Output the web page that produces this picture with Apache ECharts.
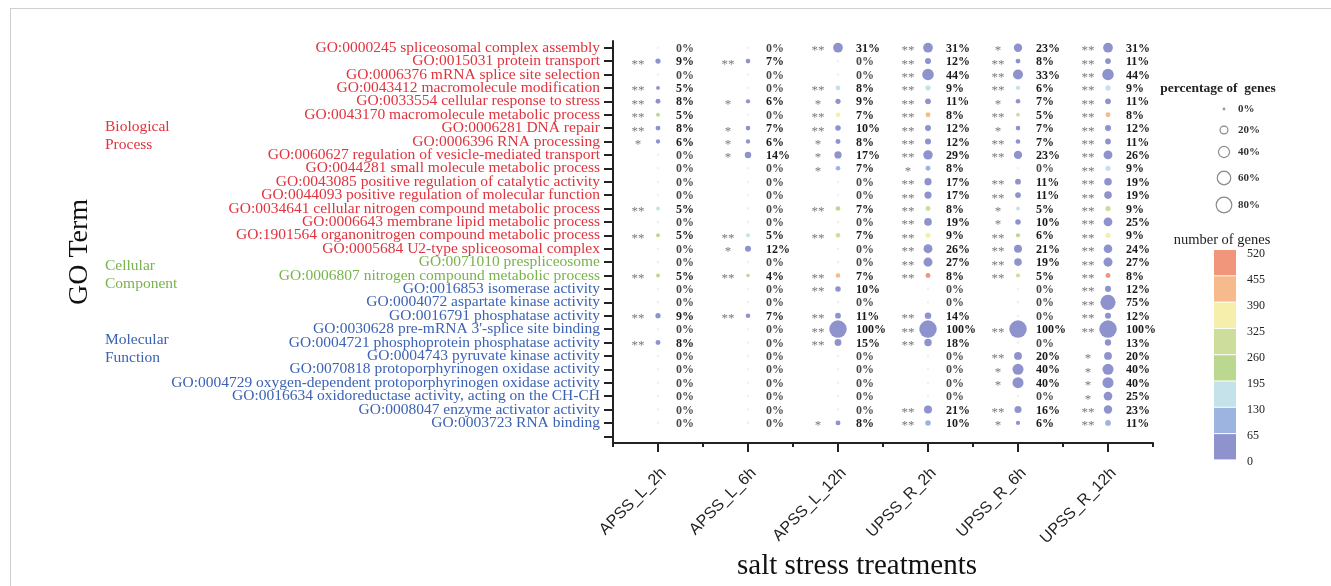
<!DOCTYPE html>
<html>
<head>
<meta charset="utf-8">
<script src="https://cdn.jsdelivr.net/npm/echarts@6/dist/echarts.min.js"></script>
<style>
  html, body { margin: 0; padding: 0; background: #ffffff; }
  #chart { width: 1331px; height: 586px; }
</style>
</head>
<body>
<div id="chart"></div>
<script>
// ---- data -----------------------------------------------------------------
const treatments = ['APSS_L_2h', 'APSS_L_6h', 'APSS_L_12h', 'UPSS_R_2h', 'UPSS_R_6h', 'UPSS_R_12h'];

const goTerms = [
  'GO:0000245 spliceosomal complex assembly',
  'GO:0015031 protein transport',
  'GO:0006376 mRNA splice site selection',
  'GO:0043412 macromolecule modification',
  'GO:0033554 cellular response to stress',
  'GO:0043170 macromolecule metabolic process',
  'GO:0006281 DNA repair',
  'GO:0006396 RNA processing',
  'GO:0060627 regulation of vesicle-mediated transport',
  'GO:0044281 small molecule metabolic process',
  'GO:0043085 positive regulation of catalytic activity',
  'GO:0044093 positive regulation of molecular function',
  'GO:0034641 cellular nitrogen compound metabolic process',
  'GO:0006643 membrane lipid metabolic process',
  'GO:1901564 organonitrogen compound metabolic process',
  'GO:0005684 U2-type spliceosomal complex',
  'GO:0071010 prespliceosome',
  'GO:0006807 nitrogen compound metabolic process',
  'GO:0016853 isomerase activity',
  'GO:0004072 aspartate kinase activity',
  'GO:0016791 phosphatase activity',
  "GO:0030628 pre-mRNA 3'-splice site binding",
  'GO:0004721 phosphoprotein phosphatase activity',
  'GO:0004743 pyruvate kinase activity',
  'GO:0070818 protoporphyrinogen oxidase activity',
  'GO:0004729 oxygen-dependent protoporphyrinogen oxidase activity',
  'GO:0016634 oxidoreductase activity, acting on the CH-CH',
  'GO:0008047 enzyme activator activity',
  'GO:0003723 RNA binding'
];

// label colour group of each term: BP / CC / MF
const termGroup = [
  'BP','BP','BP','BP','BP','BP','BP','BP','BP','BP','BP','BP','BP','BP','BP','BP',
  'CC','CC',
  'MF','MF','MF','MF','MF','MF','MF','MF','MF','MF','MF'
];

// percentage of genes (%), one array per treatment, in GO term order
const pctAPSS_L_2h  = [0, 9, 0, 5, 8, 5, 8, 6, 0, 0, 0, 0, 5, 0, 5, 0, 0, 5, 0, 0, 9, 0, 8, 0, 0, 0, 0, 0, 0];
const pctAPSS_L_6h  = [0, 7, 0, 0, 6, 0, 7, 6, 14, 0, 0, 0, 0, 0, 5, 12, 0, 4, 0, 0, 7, 0, 0, 0, 0, 0, 0, 0, 0];
const pctAPSS_L_12h = [31, 0, 0, 8, 9, 7, 10, 8, 17, 7, 0, 0, 7, 0, 7, 0, 0, 7, 10, 0, 11, 100, 15, 0, 0, 0, 0, 0, 8];
const pctUPSS_R_2h  = [31, 12, 44, 9, 11, 8, 12, 12, 29, 8, 17, 17, 8, 19, 9, 26, 27, 8, 0, 0, 14, 100, 18, 0, 0, 0, 0, 21, 10];
const pctUPSS_R_6h  = [23, 8, 33, 6, 7, 5, 7, 7, 23, 0, 11, 11, 5, 10, 6, 21, 19, 5, 0, 0, 0, 100, 0, 20, 40, 40, 0, 16, 6];
const pctUPSS_R_12h = [31, 11, 44, 9, 11, 8, 12, 11, 26, 9, 19, 19, 9, 25, 9, 24, 27, 8, 12, 75, 12, 100, 13, 20, 40, 40, 25, 23, 11];

// number of genes, one array per treatment, in GO term order
const genesAPSS_L_2h  = [0, 20, 0, 45, 40, 250, 15, 25, 0, 0, 0, 0, 170, 0, 230, 0, 0, 240, 0, 0, 12, 0, 8, 0, 0, 0, 0, 0, 0];
const genesAPSS_L_6h  = [0, 15, 0, 0, 30, 0, 12, 25, 6, 0, 0, 0, 0, 0, 150, 10, 0, 210, 0, 0, 9, 0, 0, 0, 0, 0, 0, 0, 0];
const genesAPSS_L_12h = [12, 0, 0, 170, 45, 350, 20, 35, 7, 80, 0, 0, 230, 0, 280, 0, 0, 420, 5, 0, 14, 3, 8, 0, 0, 0, 0, 0, 60];
const genesUPSS_R_2h  = [12, 25, 14, 185, 50, 430, 25, 50, 12, 90, 30, 30, 280, 20, 360, 20, 18, 480, 0, 0, 18, 3, 10, 0, 0, 0, 0, 25, 100];
const genesUPSS_R_6h  = [9, 17, 11, 140, 35, 300, 15, 30, 9, 0, 20, 20, 170, 10, 240, 16, 13, 300, 0, 0, 0, 3, 0, 2, 2, 2, 0, 19, 55];
const genesUPSS_R_12h = [12, 23, 14, 190, 50, 430, 25, 45, 10, 140, 33, 33, 300, 25, 360, 18, 18, 480, 15, 3, 16, 3, 7, 2, 2, 2, 1, 27, 100];

// significance marks, one array per treatment, in GO term order
const sigAPSS_L_2h  = ['', '**', '', '**', '**', '**', '**', '*', '', '', '', '', '**', '', '**', '', '', '**', '', '', '**', '', '**', '', '', '', '', '', ''];
const sigAPSS_L_6h  = ['', '**', '', '', '*', '', '*', '*', '*', '', '', '', '', '', '**', '*', '', '**', '', '', '**', '', '', '', '', '', '', '', ''];
const sigAPSS_L_12h = ['**', '', '', '**', '*', '**', '**', '*', '*', '*', '', '', '**', '', '**', '', '', '**', '**', '', '**', '**', '**', '', '', '', '', '', '*'];
const sigUPSS_R_2h  = ['**', '**', '**', '**', '**', '**', '**', '**', '**', '*', '**', '**', '**', '**', '**', '**', '**', '**', '', '', '**', '**', '**', '', '', '', '', '**', '**'];
const sigUPSS_R_6h  = ['*', '**', '**', '**', '*', '**', '*', '**', '**', '', '**', '**', '*', '*', '**', '**', '**', '**', '', '', '', '**', '', '**', '*', '*', '', '**', '*'];
const sigUPSS_R_12h = ['**', '**', '**', '**', '**', '**', '**', '**', '**', '**', '**', '**', '**', '**', '**', '**', '**', '**', '**', '**', '**', '**', '', '*', '*', '*', '*', '**', '**'];

// legend scales
const sizeLegendPct = [0, 20, 40, 60, 80];
const geneBreaks = [0, 65, 130, 195, 260, 325, 390, 455, 520];
const genePalette = ['#8f93cd', '#9db3e0', '#c5e2ea', '#bbd890', '#cddd9c', '#f6eeab', '#f6ba8c', '#f1967b'];

// ---- styling helpers ------------------------------------------------------
const groupColor = { BP: '#e0333d', CC: '#78b34b', MF: '#3b62b4' };
const groupName = { BP: 'Biological\nProcess', CC: 'Cellular\nComponent', MF: 'Molecular\nFunction' };
const SERIF = '"Liberation Serif", "Times New Roman", serif';
const SANS = '"Liberation Sans", Arial, sans-serif';

// bubble diameter grows with the square root of the percentage (area ~ value)
const bubbleSize = p => Math.max(2.6, 1.75 * Math.sqrt(p));

// ---- assemble series data -------------------------------------------------
const pctByT = [pctAPSS_L_2h, pctAPSS_L_6h, pctAPSS_L_12h, pctUPSS_R_2h, pctUPSS_R_6h, pctUPSS_R_12h];
const genesByT = [genesAPSS_L_2h, genesAPSS_L_6h, genesAPSS_L_12h, genesUPSS_R_2h, genesUPSS_R_6h, genesUPSS_R_12h];
const sigByT = [sigAPSS_L_2h, sigAPSS_L_6h, sigAPSS_L_12h, sigUPSS_R_2h, sigUPSS_R_6h, sigUPSS_R_12h];

const bubbles = [], zeros = [], marks = [];
treatments.forEach((t, c) => {
  goTerms.forEach((term, r) => {
    const p = pctByT[c][r], g = genesByT[c][r], s = sigByT[c][r];
    (p > 0 ? bubbles : zeros).push([c, r, p, g]);
    if (s) marks.push([c, r, s]);
  });
});

const termColor = {};
goTerms.forEach((t, i) => { termColor[t] = groupColor[termGroup[i]]; });
const yCategories = goTerms.concat(['']);

// ---- layout ---------------------------------------------------------------
const GRID = { left: 613, top: 41, right: 178, bottom: 143 };

const pctLabel = {
  show: true,
  position: 'inside',
  align: 'left',
  verticalAlign: 'middle',
  offset: [18, 1],
  formatter: p => p.value[2] + '%',
  color: '#1a1a1a',
  fontFamily: SERIF,
  fontWeight: 'bold',
  fontSize: 12
};

// ---- legend graphics ------------------------------------------------------
const graphics = [];
// outer frame lines
graphics.push({ type: 'line', shape: { x1: 10, y1: 8.5, x2: 1331, y2: 8.5 }, style: { stroke: '#cfcfcf', lineWidth: 1 } });
graphics.push({ type: 'line', shape: { x1: 10.5, y1: 8, x2: 10.5, y2: 586 }, style: { stroke: '#cfcfcf', lineWidth: 1 } });

// axis titles
graphics.push({
  type: 'text', x: 80, y: 252, rotation: Math.PI / 2,
  style: { text: 'GO Term', font: '28px ' + SERIF, fill: '#111', textAlign: 'center', textVerticalAlign: 'middle', align: 'center', verticalAlign: 'middle' }
});
graphics.push({
  type: 'text', x: 857, y: 566,
  style: { text: 'salt stress treatments', font: '29px ' + SERIF, fill: '#111', textAlign: 'center', textVerticalAlign: 'middle', align: 'center', verticalAlign: 'middle' }
});

// ontology group captions
[['BP', 118], ['CC', 257], ['MF', 331]].forEach(([g, y]) => {
  graphics.push({
    type: 'text', x: 105, y: y,
    style: { text: groupName[g], font: '15.5px ' + SERIF, fill: groupColor[g], lineHeight: 18, textAlign: 'left', align: 'left' }
  });
});

// size legend
graphics.push({
  type: 'text', x: 1218, y: 89,
  style: { text: 'percentage of  genes', font: 'bold 13.5px ' + SERIF, fill: '#222', textAlign: 'center', textVerticalAlign: 'middle', align: 'center', verticalAlign: 'middle' }
});
const sizeLegendY = [109, 130, 152, 178, 205];
sizeLegendPct.forEach((p, i) => {
  const r = bubbleSize(p) / 2;
  graphics.push({
    type: 'circle', shape: { cx: 1224, cy: sizeLegendY[i], r: p === 0 ? 1.4 : r },
    style: p === 0 ? { fill: '#9a9a9a' } : { fill: '#ffffff', stroke: '#8a8a8a', lineWidth: 1.2 }
  });
  graphics.push({
    type: 'text', x: 1238, y: sizeLegendY[i],
    style: { text: p + '%', font: 'bold 11px ' + SERIF, fill: '#333', textVerticalAlign: 'middle', verticalAlign: 'middle' }
  });
});

// colour legend
graphics.push({
  type: 'text', x: 1222, y: 240,
  style: { text: 'number of genes', font: '14.5px ' + SERIF, fill: '#222', textAlign: 'center', textVerticalAlign: 'middle', align: 'center', verticalAlign: 'middle' }
});
const barTop = 250, binH = 26.3, nBins = genePalette.length;
genePalette.forEach((col, i) => {
  graphics.push({
    type: 'rect',
    shape: { x: 1214, y: barTop + (nBins - 1 - i) * binH, width: 22, height: binH - 1 },
    style: { fill: col }
  });
});
geneBreaks.forEach((b, i) => {
  graphics.push({
    type: 'text', x: 1247, y: 254 + (nBins - i) * 26,
    style: { text: String(b), font: '12px ' + SERIF, fill: '#222', textVerticalAlign: 'middle', verticalAlign: 'middle' }
  });
});

// ---- chart ----------------------------------------------------------------
const chart = echarts.init(document.getElementById('chart'));
chart.setOption({
  backgroundColor: '#ffffff',
  animation: false,
  grid: GRID,
  xAxis: [
    {
      type: 'category',
      data: treatments,
      boundaryGap: true,
      axisLine: { show: true, lineStyle: { color: '#222', width: 2 } },
      axisTick: { show: true, alignWithLabel: true, interval: 0, length: 9, lineStyle: { color: '#222', width: 2 } },
      axisLabel: { interval: 0, rotate: 45, margin: 22, verticalAlign: 'top', color: '#222', fontFamily: SANS, fontSize: 16 },
      splitLine: { show: false }
    },
    {
      type: 'category',
      data: treatments,
      position: 'bottom',
      boundaryGap: true,
      axisLine: { show: false },
      axisTick: { show: true, interval: 0, length: 4, lineStyle: { color: '#222', width: 2 } },
      axisLabel: { show: false },
      splitLine: { show: false }
    }
  ],
  yAxis: {
    type: 'category',
    data: yCategories,
    inverse: true,
    boundaryGap: true,
    axisLine: { show: true, lineStyle: { color: '#222', width: 2 } },
    axisTick: { show: true, alignWithLabel: true, interval: 0, length: 9, lineStyle: { color: '#222', width: 2 } },
    axisLabel: {
      interval: 0,
      margin: 13,
      fontFamily: SERIF,
      fontSize: 15.5,
      color: v => termColor[v] || '#222'
    },
    splitLine: { show: false }
  },
  visualMap: {
    type: 'piecewise',
    show: false,
    seriesIndex: 0,
    dimension: 3,
    pieces: genePalette.map((col, i) => ({ gte: geneBreaks[i], lt: geneBreaks[i + 1], color: col }))
  },
  series: [
    {
      name: 'genes',
      type: 'scatter',
      data: bubbles,
      symbol: 'circle',
      symbolSize: v => bubbleSize(v[2]),
      itemStyle: { opacity: 1 },
      label: pctLabel,
      emphasis: { disabled: true },
      z: 3
    },
    {
      name: 'none',
      type: 'scatter',
      data: zeros,
      symbol: 'circle',
      symbolSize: v => bubbleSize(v[2]),
      itemStyle: { color: '#ebebf1' },
      label: pctLabel,
      emphasis: { disabled: true },
      z: 2
    },
    {
      name: 'significance',
      type: 'scatter',
      data: marks,
      symbol: 'circle',
      symbolSize: 1,
      itemStyle: { color: 'rgba(0,0,0,0)' },
      label: {
        show: true,
        position: 'inside',
        align: 'center',
        verticalAlign: 'middle',
        offset: [-20, 3],
        formatter: p => p.value[2],
        color: '#555',
        fontFamily: SERIF,
        fontSize: 13
      },
      emphasis: { disabled: true },
      silent: true,
      z: 4
    }
  ],
  graphic: graphics
});
</script>
</body>
</html>
